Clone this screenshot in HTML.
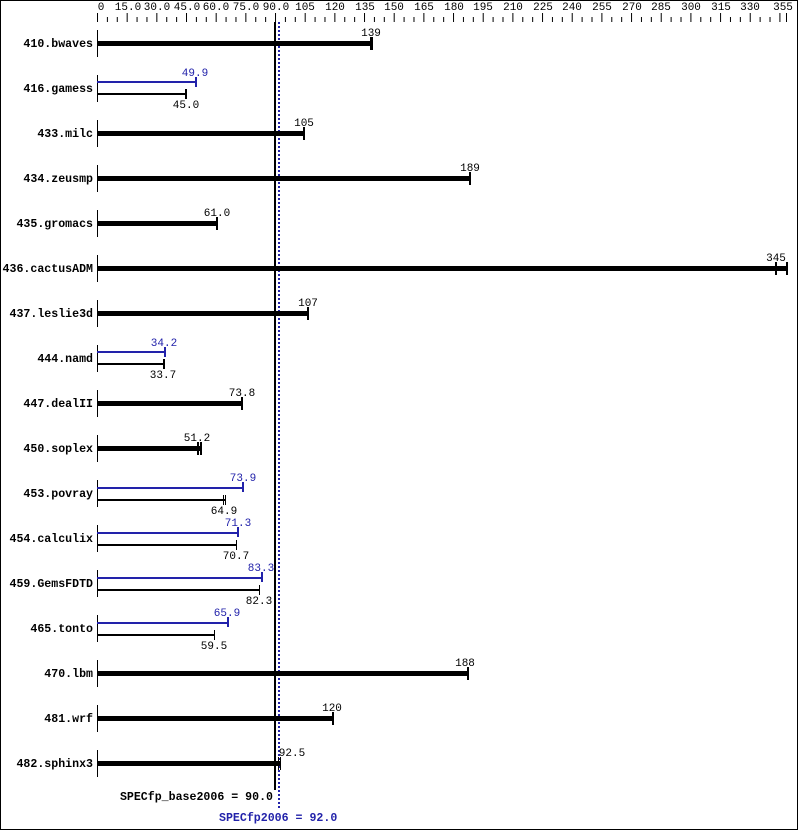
<!DOCTYPE html>
<html><head><style>
html,body{margin:0;padding:0;background:#fff}
svg{display:block}
text{font-family:"Liberation Mono","DejaVu Sans Mono",monospace;font-size:11px}
.l{font-weight:bold;text-anchor:end;font-size:11.6px}
.v{text-anchor:middle}
.b{fill:#2222aa}
</style></head><body>
<svg width="799" height="831" viewBox="0 0 799 831" xmlns="http://www.w3.org/2000/svg">
<defs>
<pattern id="tk" x="97" y="0" width="29.67" height="30" patternUnits="userSpaceOnUse">
<rect x="0" y="13" width="1" height="9" fill="#000"/>
<rect x="9.89" y="17" width="1" height="5" fill="#000"/>
<rect x="19.78" y="17" width="1" height="5" fill="#000"/>
</pattern>
</defs>
<rect x="0.5" y="0.5" width="797" height="829" fill="none" stroke="#000"/>
<rect x="97" y="0" width="692" height="23" fill="url(#tk)"/>
<rect x="786" y="13" width="1" height="9" fill="#000"/>
<g class="v">
<text x="101" y="10">0</text><text x="128" y="10">15.0</text><text x="157" y="10">30.0</text><text x="187" y="10">45.0</text><text x="216" y="10">60.0</text><text x="246" y="10">75.0</text><text x="276" y="10">90.0</text><text x="305" y="10">105</text><text x="335" y="10">120</text><text x="365" y="10">135</text><text x="394" y="10">150</text><text x="424" y="10">165</text><text x="454" y="10">180</text><text x="483" y="10">195</text><text x="513" y="10">210</text><text x="543" y="10">225</text><text x="572" y="10">240</text><text x="602" y="10">255</text><text x="632" y="10">270</text><text x="661" y="10">285</text><text x="691" y="10">300</text><text x="721" y="10">315</text><text x="750" y="10">330</text><text x="783" y="10">355</text>
</g>
<rect x="274" y="22" width="2" height="768" fill="#000"/>
<line x1="279" y1="22" x2="279" y2="808" stroke="#2222aa" stroke-width="2" stroke-dasharray="2,2"/>
<g id="rows">
<g><text class="l" x="93" y="47">410.bwaves</text><rect x="97" y="30" width="1" height="27" fill="#000"/><rect x="97" y="41" width="275" height="5" fill="#000"/><rect x="370" y="37" width="3" height="13" fill="#000"/><text class="v" x="371" y="36">139</text></g>
<g><text class="l" x="93" y="92">416.gamess</text><rect x="97" y="75" width="1" height="27" fill="#000"/><rect x="97" y="81" width="99" height="2" class="b"/><rect x="195" y="77" width="2" height="10" class="b"/><text class="v b" x="195" y="76">49.9</text><rect x="97" y="93" width="89" height="2" fill="#000"/><rect x="185" y="89" width="2" height="10" fill="#000"/><text class="v" x="186" y="108">45.0</text></g>
<g><text class="l" x="93" y="137">433.milc</text><rect x="97" y="120" width="1" height="27" fill="#000"/><rect x="97" y="131" width="208" height="5" fill="#000"/><rect x="303" y="127" width="2" height="13" fill="#000"/><text class="v" x="304" y="126">105</text></g>
<g><text class="l" x="93" y="182">434.zeusmp</text><rect x="97" y="165" width="1" height="27" fill="#000"/><rect x="97" y="176" width="374" height="5" fill="#000"/><rect x="469" y="172" width="2" height="13" fill="#000"/><text class="v" x="470" y="171">189</text></g>
<g><text class="l" x="93" y="227">435.gromacs</text><rect x="97" y="210" width="1" height="27" fill="#000"/><rect x="97" y="221" width="121" height="5" fill="#000"/><rect x="216" y="217" width="2" height="13" fill="#000"/><text class="v" x="217" y="216">61.0</text></g>
<g><text class="l" x="93" y="272">436.cactusADM</text><rect x="97" y="255" width="1" height="27" fill="#000"/><rect x="97" y="266" width="690" height="5" fill="#000"/><rect x="775" y="262" width="2" height="13" fill="#000"/><rect x="786" y="262" width="2" height="13" fill="#000"/><text class="v" x="776" y="261">345</text></g>
<g><text class="l" x="93" y="317">437.leslie3d</text><rect x="97" y="300" width="1" height="27" fill="#000"/><rect x="97" y="311" width="212" height="5" fill="#000"/><rect x="307" y="307" width="2" height="13" fill="#000"/><text class="v" x="308" y="306">107</text></g>
<g><text class="l" x="93" y="362">444.namd</text><rect x="97" y="345" width="1" height="27" fill="#000"/><rect x="97" y="351" width="68" height="2" class="b"/><rect x="164" y="347" width="2" height="10" class="b"/><text class="v b" x="164" y="346">34.2</text><rect x="97" y="363" width="67" height="2" fill="#000"/><rect x="163" y="359" width="2" height="10" fill="#000"/><text class="v" x="163" y="378">33.7</text></g>
<g><text class="l" x="93" y="407">447.dealII</text><rect x="97" y="390" width="1" height="27" fill="#000"/><rect x="97" y="401" width="146" height="5" fill="#000"/><rect x="241" y="397" width="2" height="13" fill="#000"/><text class="v" x="242" y="396">73.8</text></g>
<g><text class="l" x="93" y="452">450.soplex</text><rect x="97" y="435" width="1" height="27" fill="#000"/><rect x="97" y="446" width="104" height="5" fill="#000"/><rect x="197" y="442" width="2" height="13" fill="#000"/><rect x="200" y="442" width="2" height="13" fill="#000"/><text class="v" x="197" y="441">51.2</text></g>
<g><text class="l" x="93" y="497">453.povray</text><rect x="97" y="480" width="1" height="27" fill="#000"/><rect x="97" y="487" width="147" height="2" class="b"/><rect x="242" y="482" width="2" height="10" class="b"/><text class="v b" x="243" y="481">73.9</text><rect x="97" y="499" width="129" height="2" fill="#000"/><rect x="223" y="495" width="1" height="10" fill="#000"/><rect x="225" y="495" width="1" height="10" fill="#000"/><text class="v" x="224" y="514">64.9</text></g>
<g><text class="l" x="93" y="542">454.calculix</text><rect x="97" y="525" width="1" height="27" fill="#000"/><rect x="97" y="532" width="141" height="2" class="b"/><rect x="237" y="527" width="2" height="10" class="b"/><text class="v b" x="238" y="526">71.3</text><rect x="97" y="544" width="140" height="2" fill="#000"/><rect x="236" y="540" width="1" height="10" fill="#000"/><text class="v" x="236" y="559">70.7</text></g>
<g><text class="l" x="93" y="587">459.GemsFDTD</text><rect x="97" y="570" width="1" height="27" fill="#000"/><rect x="97" y="577" width="165" height="2" class="b"/><rect x="261" y="572" width="2" height="10" class="b"/><text class="v b" x="261" y="571">83.3</text><rect x="97" y="589" width="163" height="2" fill="#000"/><rect x="259" y="585" width="1" height="10" fill="#000"/><text class="v" x="259" y="604">82.3</text></g>
<g><text class="l" x="93" y="632">465.tonto</text><rect x="97" y="615" width="1" height="27" fill="#000"/><rect x="97" y="622" width="131" height="2" class="b"/><rect x="227" y="617" width="2" height="10" class="b"/><text class="v b" x="227" y="616">65.9</text><rect x="97" y="634" width="118" height="2" fill="#000"/><rect x="214" y="630" width="1" height="10" fill="#000"/><text class="v" x="214" y="649">59.5</text></g>
<g><text class="l" x="93" y="677">470.lbm</text><rect x="97" y="660" width="1" height="27" fill="#000"/><rect x="97" y="671" width="372" height="5" fill="#000"/><rect x="467" y="667" width="2" height="13" fill="#000"/><text class="v" x="465" y="666">188</text></g>
<g><text class="l" x="93" y="722">481.wrf</text><rect x="97" y="705" width="1" height="27" fill="#000"/><rect x="97" y="716" width="237" height="5" fill="#000"/><rect x="332" y="712" width="2" height="13" fill="#000"/><text class="v" x="332" y="711">120</text></g>
<g><text class="l" x="93" y="767">482.sphinx3</text><rect x="97" y="750" width="1" height="27" fill="#000"/><rect x="97" y="761" width="184" height="5" fill="#000"/><rect x="278" y="757" width="1" height="13" fill="#000"/><rect x="280" y="757" width="1" height="13" fill="#000"/><text class="v" x="292" y="756">92.5</text></g>
</g>
<text x="273" y="800" style="font-weight:bold;text-anchor:end;font-size:11.6px">SPECfp_base2006 = 90.0</text>
<text x="219" y="821" class="b" style="font-weight:bold;font-size:11.6px">SPECfp2006 = 92.0</text>
</svg>
</body></html>
